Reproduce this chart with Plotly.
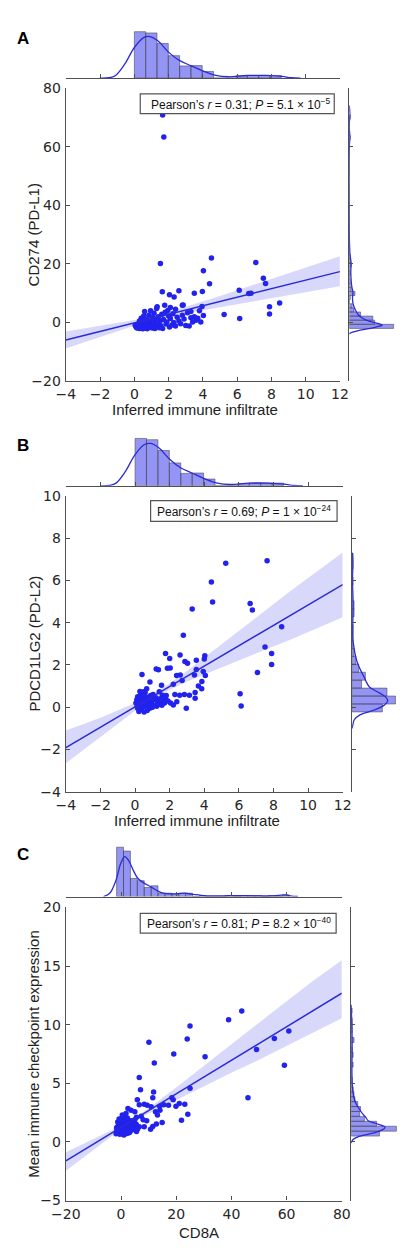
import plotly.graph_objects as go

W, H = 412, 1254
FONT_TICK = "DejaVu Sans, Verdana, sans-serif"
FONT_TXT = "Liberation Sans, Arial, sans-serif"
AXC = "#505050"
BLUE = "#2222ee"
LINEC = "#2a2ad8"

# ---------------- Panel A: CD274 (PD-L1) vs inferred immune infiltrate ----------------
a_x = [1.65, 1.72, 1.52, 4.50, 4.03, 7.09, 7.53, 7.66, 4.39, 1.63, 2.60, 2.05, 2.32, 3.50, 3.97,
       6.12, 6.68, 6.81, 7.89, 8.48, 7.89, 5.24, 6.15, 3.95, 1.77, 2.10, 2.80, 1.33, 3.88, 4.03,
       0.05, 0.10, 0.15, 0.20, 0.25, 0.30, 0.30, 0.35, 0.40, 0.40, 0.45, 0.50, 0.50, 0.55, 0.60,
       0.60, 0.65, 0.70, 0.70, 0.75, 0.80, 0.85, 0.90, 0.90, 0.95, 1.00, 1.00, 1.05, 1.10, 1.15,
       1.20, 1.20, 1.25, 1.30, 1.35, 1.40, 1.45, 1.50, 1.55, 1.60, 1.65, 1.70, 1.80, 1.85, 1.90,
       2.00, 2.05, 2.10, 2.20, 2.25, 2.30, 2.40, 2.50, 2.60, 2.70, 2.80, 2.90, 3.00, 3.10, 3.20,
       3.30, 3.40, 3.50, 3.60, 3.70, 3.80, 2.85, 2.40, 1.95, 3.30,
       0.15, 0.25, 0.35, 0.45, 0.55, 0.65, 0.75, 0.85, 0.95, 1.05, 1.15, 0.32, 0.58, 0.82, 1.08]
a_y = [70.8, 63.3, 20.1, 22.0, 17.7, 20.5, 15.1, 13.3, 13.2, 10.5, 10.8, 9.5, 8.7, 10.0, 10.6,
       11.0, 9.9, 10.0, 5.4, 6.7, 2.9, 2.7, 1.4, 5.5, 5.9, 5.1, 5.9, 5.4, 0.2, 2.4,
       -1.0, -1.5, -0.8, -1.8, -1.2, -2.0, 0.5, -0.5, -1.6, 1.5, -1.0, 0.0, -2.1, 2.2, -1.3,
       3.8, -0.6, 1.0, -1.9, 0.3, -1.2, 2.5, -0.2, -1.7, 4.0, 0.8, -1.0, 1.8, -1.5, 3.2,
       0.0, -2.0, 1.2, 4.8, -0.7, 2.0, -1.8, 0.5, -1.1, 2.8, -2.0, 1.0, 3.5, -0.5, 0.2,
       2.2, -1.5, 1.4, -0.8, 3.0, 0.0, -1.2, 1.8, 0.5, -0.4, 2.5, 1.2, -1.0, 3.3, -1.2,
       1.6, 0.2, 2.0, 0.8, 1.5, 4.0, 6.0, 4.5, 4.1, 3.8,
       -1.9, -0.3, -1.3, -2.0, -0.9, -1.5, -2.1, -0.4, -1.4, -1.9, -0.6, -1.7, 0.8, -1.0, 0.3]
a_band_x = [-4, -2, 0, 1.5, 3, 5, 7, 9, 12]
a_fit = [-5.93, -3.02, -0.11, 2.08, 4.26, 7.17, 10.09, 13.0, 17.37]
a_lo = [-8.83, -4.92, -1.11, 1.28, 3.16, 5.27, 7.29, 9.3, 12.4]
a_hi = [-3.03, -1.12, 0.89, 2.88, 5.36, 9.07, 12.89, 16.7, 22.6]

# top marginal (shared x data of panels A and B)
ab_top_start, ab_top_w = 0.0, 0.66
ab_top_dens = [0.370, 0.360, 0.276, 0.179, 0.097, 0.100, 0.053, 0.0, 0.0, 0.018, 0.021, 0.021, 0.021]
ab_kde_x = [-2.02, -1.47, -1.10, -0.555, 0.0, 0.545, 0.91, 1.37, 2.01, 2.65, 3.29, 4.03, 4.76,
            5.49, 6.59, 7.69, 8.61, 9.16, 9.7]
ab_kde_d = [0.0, 0.003, 0.021, 0.113, 0.244, 0.323, 0.331, 0.297, 0.205, 0.139, 0.100, 0.055,
            0.021, 0.0105, 0.021, 0.021, 0.013, 0.003, 0.0]

# right marginal A
a_r_start, a_r_w = -2.0, 1.4
a_r_dens = [0.392, 0.225, 0.208, 0.100, 0.042, 0.025, 0.0, 0.008, 0.050, 0.017, 0.008, 0.008,
            0.0, 0.008, 0.0, 0.017, 0.008, 0.008,
            0.0, 0.0, 0.0, 0.0, 0.0, 0.0, 0.0, 0.0, 0.0, 0.0, 0.0, 0.0, 0.0, 0.0,
            0.0, 0.0, 0.0, 0.0, 0.0, 0.0, 0.0, 0.0, 0.0, 0.0, 0.0, 0.0, 0.0, 0.0,
            0.008, 0.0, 0.0, 0.0, 0.0, 0.008]
a_r_kde_y = [-4.0, -3.7, -2.6, -1.8, -1.2, -0.9, -0.5, -0.1, 0.8, 1.7, 2.5, 4.1, 6.4, 8.5, 10.3,
             12.0, 14.0, 17.0, 20.5, 23.2, 26.5, 30.0, 60.0, 63.3, 66.0, 68.0, 70.8, 74.0]
a_r_kde_d = [0.0, 0.004, 0.098, 0.208, 0.264, 0.292, 0.275, 0.233, 0.150, 0.108, 0.083, 0.056,
             0.033, 0.028, 0.032, 0.023, 0.017, 0.013, 0.015, 0.006, 0.002, 0.0, 0.0, 0.005,
             0.0, 0.0, 0.005, 0.0]

# ---------------- Panel B: PDCD1LG2 (PD-L2) vs inferred immune infiltrate ----------------
b_x = [5.24, 7.63, 4.41, 4.48, 3.30, 6.65, 6.78, 8.47, 2.79, 7.51, 7.89, 7.89, 7.07, 6.07, 6.13,
       2.96, 0.40, 1.76, 2.00, 2.60, 1.22, 1.35, 1.87, 2.03, 2.88, 3.03, 3.54, 4.03, 4.00, 3.54,
       3.94, 4.06, 3.86, 3.66, 3.85, 3.47, 3.47, 3.43, 2.72, 2.40, 2.61, 2.21, 2.30, 2.58, 2.85,
       3.14, 2.41, 2.21, 1.76, 1.53, 1.40, 1.58, 1.04, 1.13, 0.86, 0.67, 0.49, 0.31,
       0.05, 0.10, 0.12, 0.15, 0.20, 0.22, 0.25, 0.30, 0.32, 0.35, 0.38, 0.40, 0.42, 0.45, 0.50,
       0.52, 0.55, 0.60, 0.62, 0.65, 0.70, 0.72, 0.78, 0.80, 0.85, 0.90, 0.95, 1.00, 1.05, 1.10,
       1.20, 1.25, 1.30, 1.40, 1.45, 1.55, 1.60, 1.70, 1.80, 1.90, 2.05, 0.28, 0.58, 0.15, 0.48]
b_y = [6.81, 6.93, 5.92, 4.98, 4.64, 4.91, 4.60, 3.80, 3.40, 2.85, 2.54, 2.02, 1.64, 0.64, 0.06,
       -0.05, 1.55, 2.54, 2.31, 2.47, 1.81, 1.77, 1.84, 1.86, 2.16, 2.08, 2.22, 2.43, 2.28, 1.78,
       1.69, 1.50, 1.22, 1.00, 0.88, 0.70, 0.42, 1.53, 1.27, 1.50, 1.53, 1.09, 0.60, 0.57, 0.60,
       0.57, 0.26, 0.11, 0.42, 1.04, 0.73, 0.57, 0.60, 0.42, 1.19, 0.88, 0.73, 0.57,
       0.20, 0.35, 0.05, 0.50, 0.15, -0.20, 0.40, 0.10, 0.25, -0.10, 0.60, 0.30, 0.00, 0.45, 0.15,
       -0.22, 0.35, 0.05, 0.50, 0.20, -0.15, 0.40, 0.10, 0.30, -0.05, 0.55, 0.20, 0.00, 0.35, 0.10,
       0.45, 0.05, 0.25, 0.15, 0.40, 0.10, 0.30, 0.20, 0.55, 0.30, 0.20, 0.75, 0.70, -0.05, 0.55]
b_band_x = [-4, -2, 0, 1, 2, 3, 5, 7, 9, 12]
b_fit = [-1.91, -0.946, 0.018, 0.50, 0.982, 1.464, 2.428, 3.392, 4.356, 5.80]
b_lo = [-2.65, -1.396, -0.162, 0.38, 0.832, 1.214, 1.878, 2.542, 3.206, 4.26]
b_hi = [-1.10, -0.496, 0.198, 0.62, 1.132, 1.714, 2.978, 4.242, 5.506, 7.32]

b_r_start, b_r_w = -0.22, 0.375
b_r_dens = [0.267, 0.383, 0.308, 0.083, 0.117, 0.058, 0.033, 0.017, 0.008, 0.008, 0.008, 0.0,
            0.017, 0.017, 0.0, 0.0, 0.008, 0.0, 0.008, 0.008]
b_r_kde_y = [-1.0, -0.83, -0.59, -0.36, -0.13, 0.11, 0.31, 0.50, 0.73, 0.96, 1.20, 1.43, 1.66,
             1.97, 2.29, 2.60, 2.91, 3.22, 4.0, 4.78, 5.09, 6.02, 6.8, 7.3]
b_r_kde_d = [0.0, 0.006, 0.019, 0.069, 0.194, 0.286, 0.314, 0.292, 0.223, 0.153, 0.125, 0.106,
             0.083, 0.056, 0.036, 0.023, 0.014, 0.006, 0.006, 0.008, 0.008, 0.003, 0.006, 0.002]

# ---------------- Panel C: mean immune checkpoint expression vs CD8A ----------------
c_x = [43.75, 38.98, 25.0, 23.98, 10.11, 60.8, 55.57, 49.1, 59.2, 46.0, 30.45, 19.1, 12.05, 6.6,
       7.05, 11.8, 25.0, 11.5, 18.4, 18.9, 5.9, 6.6, 8.4, 9.5, 10.9, 14.0, 15.5, 17.2, 19.9, 21.1,
       23.1, 24.2, 21.9, 14.9, 12.8, 11.5, 10.7, 2.5, 3.6, 5.0, 1.8, 0.45, -0.7, 5.6, 7.3, 8.0,
       9.3, 4.8, 6.6, 8.4, 5.6, 12.5, 13.2, 14.1,
       -1.8, -1.5, -1.3, -1.0, -0.8, -0.6, -0.5, -0.3, -0.2, 0.0, 0.1, 0.3, 0.4, 0.5, 0.6, 0.8,
       0.9, 1.0, 1.1, 1.2, 1.3, 1.4, 1.5, 1.6, 1.7, 1.8, 1.9, 2.0, 2.1, 2.2, 2.4, 2.5, 2.6, 2.8,
       3.0, 3.2, 3.4, 3.6, 3.8, 4.0, 4.3, 4.6, 5.0, 5.5, 6.0, -1.2, 0.2, -0.9, 0.7, 1.25, 2.3,
       3.1, -1.6, 0.45, 1.9]
c_y = [11.17, 10.42, 9.89, 8.77, 8.49, 9.47, 8.83, 7.88, 6.54, 3.77, 7.26, 7.49, 6.73, 5.5,
       4.44, 4.25, 4.58, 3.77, 3.77, 3.6, 3.6, 3.18, 3.21, 3.13, 3.0, 3.04, 3.18, 3.13, 3.04, 3.27,
       3.21, 2.37, 1.84, 1.65, 1.54, 1.31, 1.09, 2.85, 2.7, 2.57, 2.43, 2.3, 1.96, 2.1, 2.2, 1.9,
       1.8, 1.6, 1.3, 1.3, 0.9, 2.57, 2.29, 2.71,
       0.7, 1.0, 1.3, 0.8, 1.5, 1.1, 0.65, 1.8, 1.2, 0.9, 1.4, 0.7, 1.1, 1.6, 0.85, 1.3,
       1.0, 0.6, 1.5, 1.2, 0.8, 1.9, 1.05, 1.35, 0.7, 1.6, 1.15, 0.9, 1.45, 1.25, 0.75, 1.7, 1.1,
       1.35, 0.95, 1.55, 1.2, 1.8, 1.0, 1.4, 1.65, 1.2, 1.9, 1.5, 1.1, 1.7, 2.0, 0.95, 1.75, 2.1,
       2.05, 0.8, 1.2, 0.75, 1.85]
c_band_x = [-20, -10, 0, 5, 10, 20, 30, 40, 50, 60, 70, 80]
c_fit = [-1.62, -0.19, 1.24, 1.955, 2.67, 4.10, 5.53, 6.96, 8.39, 9.82, 11.25, 12.68]
c_lo = [-2.45, -0.65, 1.09, 1.83, 2.47, 3.62, 4.75, 5.9, 7.0, 8.15, 9.35, 10.55]
c_hi = [-0.87, 0.25, 1.39, 2.08, 2.88, 4.65, 6.5, 8.3, 10.2, 12.0, 13.8, 15.5]

c_top_start, c_top_w = -1.6, 2.5
c_top_dens = [0.115, 0.106, 0.042, 0.037, 0.021, 0.025, 0.0077, 0.0077, 0.0061, 0.0077, 0.0077,
              0.0, 0.0023, 0.0, 0.0, 0.0, 0.0023, 0.0, 0.0023, 0.0023, 0.0023, 0.0, 0.0023, 0.0,
              0.0038]
c_kde_x = [-6.36, -4.09, -1.82, -0.11, 1.36, 2.73, 4.43, 6.14, 8.41, 10.68, 12.95, 15.23, 18.64,
           23.18, 25.45, 30.0, 35.68, 41.36, 48.18, 55.0, 59.55, 61.82, 64.1]
c_kde_d = [0.0, 0.0077, 0.038, 0.077, 0.093, 0.084, 0.061, 0.042, 0.031, 0.023, 0.014, 0.0077,
           0.0061, 0.0077, 0.0054, 0.0023, 0.0015, 0.0023, 0.0015, 0.0015, 0.0038, 0.0008, 0.0]

c_r_start, c_r_w = 0.5, 0.42
c_r_dens = [0.25, 0.40, 0.225, 0.117, 0.075, 0.083, 0.058, 0.033, 0.025, 0.017, 0.0, 0.008, 0.0,
            0.0, 0.017, 0.0, 0.017, 0.008, 0.0, 0.025, 0.0, 0.008, 0.008, 0.008, 0.0, 0.008]
c_r_kde_y = [-0.09, 0.19, 0.47, 0.75, 1.03, 1.25, 1.53, 1.81, 2.15, 2.43, 2.85, 3.27, 3.83, 4.39,
             5.22, 6.34, 7.74, 8.86, 9.98, 10.8, 11.7]
c_r_kde_d = [0.0, 0.014, 0.069, 0.192, 0.275, 0.30, 0.233, 0.15, 0.125, 0.098, 0.069, 0.042,
             0.023, 0.014, 0.008, 0.006, 0.008, 0.008, 0.006, 0.003, 0.0]

# axis ticks
ab_xticks = [-4, -2, 0, 2, 4, 6, 8, 10, 12]
a_yticks = [-20, 0, 20, 40, 60, 80]
b_yticks = [-4, -2, 0, 2, 4, 6, 8, 10]
c_xticks = [-20, 0, 20, 40, 60, 80]
c_yticks = [-5, 0, 5, 10, 15, 20]

panels = [
    dict(letter="A", x=a_x, y=a_y, bx=a_band_x, fit=a_fit, lo=a_lo, hi=a_hi,
         xr=[-4, 12], yr=[-20, 80], xt=ab_xticks, yt=a_yticks,
         ts=ab_top_start, tw=ab_top_w, td=ab_top_dens, tkx=ab_kde_x, tkd=ab_kde_d,
         rs=a_r_start, rw=a_r_w, rd=a_r_dens, rky=a_r_kde_y, rkd=a_r_kde_d,
         xtitle="Inferred immune infiltrate", ytitle="CD274 (PD-L1)",
         stat="Pearson\u2019s <i>r</i> = 0.31; <i>P</i> = 5.1 \u00d7 10<sup>\u22125</sup>"),
    dict(letter="B", x=b_x, y=b_y, bx=b_band_x, fit=b_fit, lo=b_lo, hi=b_hi,
         xr=[-4, 12], yr=[-4, 10], xt=ab_xticks, yt=b_yticks,
         ts=ab_top_start, tw=ab_top_w, td=ab_top_dens, tkx=ab_kde_x, tkd=ab_kde_d,
         rs=b_r_start, rw=b_r_w, rd=b_r_dens, rky=b_r_kde_y, rkd=b_r_kde_d,
         xtitle="Inferred immune infiltrate", ytitle="PDCD1LG2 (PD-L2)",
         stat="Pearson\u2019s <i>r</i> = 0.69; <i>P</i> = 1 \u00d7 10<sup>\u221224</sup>"),
    dict(letter="C", x=c_x, y=c_y, bx=c_band_x, fit=c_fit, lo=c_lo, hi=c_hi,
         xr=[-20, 80], yr=[-5, 20], xt=c_xticks, yt=c_yticks,
         ts=c_top_start, tw=c_top_w, td=c_top_dens, tkx=c_kde_x, tkd=c_kde_d,
         rs=c_r_start, rw=c_r_w, rd=c_r_dens, rky=c_r_kde_y, rkd=c_r_kde_d,
         xtitle="CD8A", ytitle="Mean immune checkpoint expression",
         stat="Pearson\u2019s <i>r</i> = 0.81; <i>P</i> = 8.2 \u00d7 10<sup>\u221240</sup>"),
]

# layout geometry in pixels (positions only)
geo = [
    dict(L=54, R=345, T=81, B=378, tb=71, th=47, rl=355, rwpx=47, letter_y=31,
         xt_x=191, xt_y=407, yt_x=20, box=(133, 339, 87, 107), stat_r=337, stat_y=97),
    dict(L=54, R=348, T=494, B=794, tb=484, th=48, rl=358, rwpx=46, letter_y=443,
         xt_x=193, xt_y=823, yt_x=21, box=(144, 342, 499, 520), stat_r=338, stat_y=510),
    dict(L=54, R=347, T=911, B=1208, tb=900, th=50, rl=357, rwpx=48, letter_y=857,
         xt_x=195, xt_y=1240, yt_x=20, box=(133, 341, 917, 937), stat_r=338, stat_y=927),
]


def lab(v):
    return ("\u2212" + str(abs(v))) if v < 0 else str(v)


def nm(a, n):
    return a if n == 1 else f"{a}{n}"


def lk(a, n):
    return f"{a}axis" if n == 1 else f"{a}axis{n}"


fig = go.Figure()
layout = {}
annotations = []
shapes = []
tickfont = dict(family=FONT_TICK, size=14, color="#262626")
line_style = dict(showline=True, linecolor=AXC, linewidth=1.3, ticks="inside", ticklen=4,
                  tickwidth=1, tickcolor=AXC, showgrid=False, zeroline=False)

for i, (d, g) in enumerate(zip(panels, geo)):
    m, t, r = 3 * i + 1, 3 * i + 2, 3 * i + 3
    xm, ym, xtn, ytn, xrn, yrn = nm("x", m), nm("y", m), nm("x", t), nm("y", t), nm("x", r), nm("y", r)

    # main scatter + regression
    fig.add_trace(go.Scatter(x=d["x"], y=d["y"], mode="markers",
                             marker=dict(size=5.5, color=BLUE, line=dict(width=0)),
                             xaxis=xm, yaxis=ym, hoverinfo="skip"))
    fig.add_trace(go.Scatter(x=d["bx"] + d["bx"][::-1], y=d["hi"] + d["lo"][::-1],
                             fill="toself", fillcolor="rgba(50,50,230,0.19)", mode="lines",
                             line=dict(width=0), xaxis=xm, yaxis=ym, hoverinfo="skip"))
    fig.add_trace(go.Scatter(x=d["bx"], y=d["fit"], mode="lines",
                             line=dict(color=LINEC, width=1.5), xaxis=xm, yaxis=ym, hoverinfo="skip"))

    # top marginal
    tcent = [d["ts"] + d["tw"] * (k + 0.5) for k in range(len(d["td"]))]
    fig.add_trace(go.Bar(x=tcent, y=d["td"], width=d["tw"],
                         marker=dict(color="rgba(60,60,235,0.55)",
                                     line=dict(color="rgba(70,70,70,0.7)", width=0.8)),
                         xaxis=xtn, yaxis=ytn, hoverinfo="skip"))
    fig.add_trace(go.Scatter(x=d["tkx"], y=d["tkd"], mode="lines",
                             line=dict(color=LINEC, width=1.3, shape="spline"),
                             xaxis=xtn, yaxis=ytn, hoverinfo="skip"))

    # right marginal
    rcent = [d["rs"] + d["rw"] * (k + 0.5) for k in range(len(d["rd"]))]
    fig.add_trace(go.Bar(y=rcent, x=d["rd"], width=d["rw"], orientation="h",
                         marker=dict(color="rgba(60,60,235,0.55)",
                                     line=dict(color="rgba(70,70,70,0.7)", width=0.8)),
                         xaxis=xrn, yaxis=yrn, hoverinfo="skip"))
    fig.add_trace(go.Scatter(x=d["rkd"], y=d["rky"], mode="lines",
                             line=dict(color=LINEC, width=1.3, shape="spline"),
                             xaxis=xrn, yaxis=yrn, hoverinfo="skip"))

    xdom = [g["L"] / W, g["R"] / W]
    ydom = [1 - g["B"] / H, 1 - g["T"] / H]
    tmax = max(d["td"]) * 1.05
    rmax = max(d["rd"]) * 1.05

    layout[lk("x", m)] = dict(domain=xdom, range=d["xr"], anchor=ym, tickvals=d["xt"],
                              ticktext=[lab(v) for v in d["xt"]], tickfont=tickfont,
                              ticklabelstandoff=0, **line_style)
    layout[lk("y", m)] = dict(domain=ydom, range=d["yr"], anchor=xm, tickvals=d["yt"],
                              ticktext=[lab(v) for v in d["yt"]], tickfont=tickfont,
                              ticklabelstandoff=1, **line_style)
    layout[lk("x", t)] = dict(domain=xdom, range=d["xr"], anchor=ytn, tickvals=d["xt"],
                              showticklabels=False, **line_style)
    layout[lk("y", t)] = dict(domain=[1 - g["tb"] / H, 1 - (g["tb"] - g["th"] * 1.05) / H],
                              range=[0, tmax], anchor=xtn, visible=False)
    layout[lk("x", r)] = dict(domain=[g["rl"] / W, (g["rl"] + g["rwpx"] * 1.05) / W],
                              range=[0, rmax], anchor=yrn, visible=False)
    layout[lk("y", r)] = dict(domain=ydom, range=d["yr"], anchor=xrn, tickvals=d["yt"],
                              showticklabels=False, **line_style)

    # texts
    annotations.append(dict(text="<b>" + d["letter"] + "</b>", x=0, y=1 - g["letter_y"] / H,
                            xref="paper", yref="paper", xanchor="left", yanchor="middle",
                            showarrow=False, font=dict(family=FONT_TXT, size=17, color="#000")))
    annotations.append(dict(text=d["xtitle"], x=g["xt_x"] / W, y=1 - g["xt_y"] / H,
                            xref="paper", yref="paper", xanchor="center", yanchor="middle",
                            showarrow=False, font=dict(family=FONT_TXT, size=15, color="#222")))
    annotations.append(dict(text=d["ytitle"], x=g["yt_x"] / W,
                            y=1 - (g["T"] + g["B"]) / 2 / H, textangle=-90,
                            xref="paper", yref="paper", xanchor="center", yanchor="middle",
                            showarrow=False, font=dict(family=FONT_TXT, size=15, color="#222")))
    x0, x1, y0, y1 = g["box"]
    shapes.append(dict(type="rect", xref="paper", yref="paper", x0=x0 / W, x1=x1 / W,
                       y0=1 - y1 / H, y1=1 - y0 / H, line=dict(color="#555", width=1.2),
                       fillcolor="white", layer="above"))
    annotations.append(dict(text=d["stat"], x=g["stat_r"] / W, y=1 - g["stat_y"] / H,
                            xref="paper", yref="paper", xanchor="right", yanchor="middle",
                            showarrow=False, font=dict(family=FONT_TXT, size=12, color="#111")))

fig.update_layout(width=W, height=H, margin=dict(l=0, r=0, t=0, b=0, pad=0),
                  paper_bgcolor="white", plot_bgcolor="rgba(0,0,0,0)", showlegend=False,
                  annotations=annotations, shapes=shapes, **layout)

fig.write_html("out.html", config={"displayModeBar": False})
